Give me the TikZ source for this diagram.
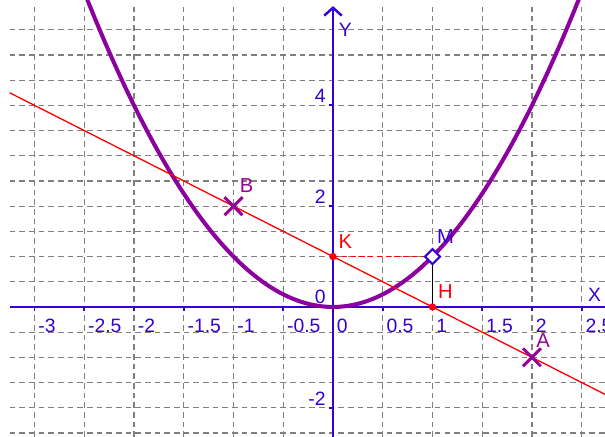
\documentclass[tikz,border=0pt]{standalone}
\usepackage{fontspec}
\setmainfont{Liberation Sans}
\usetikzlibrary{arrows.meta,shapes.geometric,shapes.misc}
\definecolor{axblue}{RGB}{55,0,210}
\definecolor{parab}{RGB}{140,0,160}
\definecolor{ptpurple}{RGB}{153,0,153}
\definecolor{gridgray}{RGB}{128,128,128}
\tikzset{
  gridline/.style={gridgray, line width=0.65pt, dash pattern=on 3.2pt off 2.3pt},
  axisline/.style={axblue, line width=1.4pt},
  ticklabel/.style={axblue, inner sep=0pt, font=\fontsize{11}{13}\selectfont},
  reddot/.style={circle, fill=red, inner sep=0pt, minimum size=4.2pt},
  crossmark/.style={cross out, draw=ptpurple, line width=1.7pt, minimum size=8.5pt, inner sep=0pt},
  ptlabel/.style={inner sep=0pt, font=\fontsize{11.5}{13}\selectfont}
}
\begin{document}
\begin{tikzpicture}[x=1.99cm, y=1.008cm]
\useasboundingbox (-3.347,-2.579) rectangle (2.734,6.091);
\begin{scope}
\clip (-3.347,-2.579) rectangle (2.734,6.091);
% grid
\foreach \gx in {-3,-2.5,...,2.6} \draw[gridline] (\gx,-2.579) -- (\gx,5.95);
\foreach \gy in {-2.5,-2,...,5.6} \draw[gridline] (-3.25,\gy) -- (2.734,\gy);
% axes
\draw[axisline] (-3.25,0) -- (2.8,0);
\draw[axisline, -{Straight Barb[length=4.5pt,width=10pt]}] (0,-2.579) -- (0,5.97);
\foreach \tx in {-3,-2.5,...,2.6} \draw[axblue, line width=1pt] (\tx,0.02) -- (\tx,-0.09);
\foreach \ty in {-2,2,4} \draw[axblue, line width=1pt] (0,\ty) -- (-0.045,\ty);
% parabola
\draw[parab, line width=2.3pt] plot[domain=-2.5:2.5, samples=120] (\x,{\x*\x});
% line AB
\draw[red, line width=0.75pt] (-3.25,4.25) -- (2.734,-1.734);
\end{scope}
% axis names
\node[ticklabel] (ylab) at (0.125,5.5) {Y};
\node[ticklabel] (xlab) at (2.63,0.24) {X};
% x tick labels
\foreach \tx/\tl [count=\i] in {-3/-3,-2.5/-2.5,-2/-2,-1.5/-1.5,-1/-1,-0.5/-0.5,0/0,0.5/0.5,1/1,1.5/1.5,2/2,2.5/2.5}
  \node[ticklabel, anchor=north west] (xt\i) at (\tx+0.035,-0.23) {\tl};
% y tick labels
\foreach \ty/\tl [count=\i] in {-2/-2,2/2,4/4}
  \node[ticklabel, anchor=east] (yt\i) at (-0.07,\ty+0.18) {\tl};
\node[ticklabel, anchor=east] (y0) at (-0.07,0.2) {0};
% points
\coordinate (K) at (0,1);
\coordinate (M) at (1,1);
\coordinate (H) at (1,0);
\coordinate (A) at (2,-1);
\coordinate (B) at (-1,2);
\draw[red, line width=0.7pt, dash pattern=on 3pt off 2pt] (K) -- (M);
\draw[black, line width=0.6pt] (M) -- (H);
\node[reddot] (Kpt) at (K) {};
\node[reddot] (Hpt) at (H) {};
\node[diamond, draw=axblue, line width=1.2pt, fill=white, inner sep=0pt, minimum size=9pt] (Mpt) at (M) {};
\node[crossmark] (Apt) at (A) {};
\node[crossmark] (Bpt) at (B) {};
% point labels
\node[ptlabel, red, xshift=7pt, yshift=8.5pt] (Klab) at (K) {K};
\node[ptlabel, axblue, xshift=7.4pt, yshift=11.4pt] (Mlab) at (M) {M};
\node[ptlabel, red, xshift=7.4pt, yshift=8.5pt] (Hlab) at (H) {H};
\node[ptlabel, ptpurple, xshift=7.4pt, yshift=12pt] (Blab) at (B) {B};
\node[ptlabel, ptpurple, xshift=6.3pt, yshift=9.7pt] (Alab) at (A) {A};
\end{tikzpicture}
\end{document}
